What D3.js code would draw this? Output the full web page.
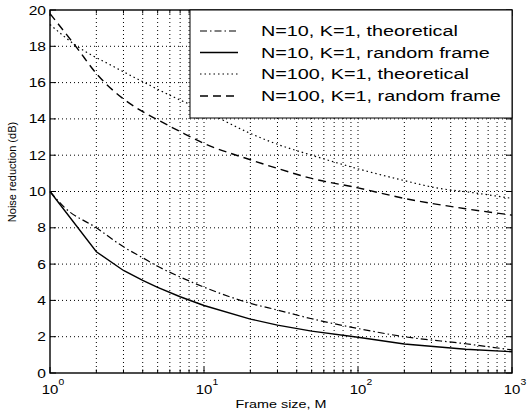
<!DOCTYPE html>
<html><head><meta charset="utf-8">
<script src="https://cdn.jsdelivr.net/npm/d3@7"></script>
<style>body{margin:0;background:#fff}svg{display:block}text{font-family:"Liberation Sans",Arial,sans-serif;fill:#000}</style>
</head><body><svg id="c" width="527" height="416"></svg>
<script>
// ---- data ----
const seriesNames = ["N=10, K=1, theoretical","N=10, K=1, random frame","N=100, K=1, theoretical","N=100, K=1, random frame"];
const mN10Theo = [1,1.25,2,3,4,5,7,10,20,30,50,100,200,500,1000];
const vN10Theo = [10,9.1,8.0,6.95,6.35,5.88,5.29,4.73,3.84,3.47,2.99,2.45,2.0,1.61,1.27];
const mN10Rand = [1,2,3,4,5,7,10,20,30,50,100,200,500,1000];
const vN10Rand = [10,6.68,5.65,5.1,4.72,4.2,3.72,2.97,2.64,2.31,1.97,1.6,1.31,1.17];
const mN100Theo = [1,1.5,2.5,4,6.3,10,20,30,50,100,200,300,600,1000];
const vN100Theo = [19.2,18.0,16.95,16.05,15.22,14.45,13.2,12.6,12.0,11.25,10.6,10.25,9.9,9.62];
const mN100Rand = [1,1.5,2,3,4,5,7,10,20,30,50,100,200,500,1000];
const vN100Rand = [19.8,17.9,16.5,15.1,14.4,13.95,13.3,12.65,11.75,11.27,10.72,10.2,9.62,9.05,8.7];
const yTicks = [0,2,4,6,8,10,12,14,16,18,20];
const xMajor = [1,10,100,1000];
const xExp = ["0","1","2","3"];
const xLabel = "Frame size, M";
const yLabel = "Noise reduction (dB)";

const svg = d3.select("#c");
const L=50,R=512,T=10,B=373;
const x = d3.scaleLog().domain([1,1000]).range([L,R]);
const y = d3.scaleLinear().domain([0,20]).range([B,T]);

function stext(g, px, py, str, size, sx, anchor){
  return g.append("text").attr("transform",`translate(${px},${py}) scale(${sx},1)`)
    .attr("font-size",size).attr("text-anchor",anchor||"start").text(str);
}

// grid
const allX = x.ticks();
const grid = svg.append("g").attr("stroke","#000").attr("stroke-width",1).attr("stroke-dasharray","1,3");
allX.filter(v=>v>1&&v<1000).forEach(v=>{
  grid.append("line").attr("x1",x(v)).attr("x2",x(v)).attr("y1",T).attr("y2",B);
});
yTicks.filter(v=>v>0&&v<20).forEach(v=>{
  grid.append("line").attr("x1",L).attr("x2",R).attr("y1",y(v)).attr("y2",y(v));
});

// ticks (inward) on all sides
const tk = svg.append("g").attr("stroke","#000").attr("stroke-width",1);
allX.forEach(v=>{
  const len = xMajor.includes(v)?6:3.5;
  tk.append("line").attr("x1",x(v)).attr("x2",x(v)).attr("y1",B).attr("y2",B-len);
  tk.append("line").attr("x1",x(v)).attr("x2",x(v)).attr("y1",T).attr("y2",T+len);
});
yTicks.forEach(v=>{
  tk.append("line").attr("x1",L).attr("x2",L+6).attr("y1",y(v)).attr("y2",y(v));
  tk.append("line").attr("x1",R).attr("x2",R-6).attr("y1",y(v)).attr("y2",y(v));
});

// curves
const series = [
  {m:mN10Theo, v:vN10Theo, dash:"7,3,1.5,3", w:1.2, curve:d3.curveMonotoneX},
  {m:mN10Rand, v:vN10Rand, dash:null, w:1.4, curve:d3.curveLinear},
  {m:mN100Theo, v:vN100Theo, dash:"1.5,3", w:1.2, curve:d3.curveMonotoneX},
  {m:mN100Rand, v:vN100Rand, dash:"8,5", w:1.4, curve:d3.curveMonotoneX}
];
series.forEach(s=>{
  const line = d3.line().x(d=>x(d[0])).y(d=>y(d[1])).curve(s.curve);
  svg.append("path").datum(s.m.map((mm,i)=>[mm,s.v[i]]))
    .attr("d",line).attr("fill","none").attr("stroke","#000")
    .attr("stroke-width",s.w).attr("stroke-dasharray",s.dash);
});

// axes box
svg.append("rect").attr("x",L).attr("y",T).attr("width",R-L).attr("height",B-T)
  .attr("fill","none").attr("stroke","#000").attr("stroke-width",1.4);

// tick labels
const lab = svg.append("g");
yTicks.forEach(v=>{ stext(lab, L-4, y(v)+4.5, String(v), 13, 1.2, "end"); });
xMajor.forEach((v,i)=>{
  stext(lab, x(v), 394, "10", 13, 1.15, "middle");
  stext(lab, x(v)+8.5, 385, xExp[i], 9, 1.15, "start");
});
stext(lab, 281, 408, xLabel, 11.5, 1.25, "middle");
lab.append("text").attr("transform","translate(16,172) rotate(-90)")
  .attr("font-size",11).attr("text-anchor","middle").text(yLabel);

// legend
const lg = svg.append("g");
lg.append("rect").attr("x",190).attr("y",T).attr("width",R-190).attr("height",108)
  .attr("fill","#fff").attr("stroke","#000").attr("stroke-width",1);
const rowY = [31,52.5,74,96];
seriesNames.forEach((nm,i)=>{
  lg.append("line").attr("x1",200).attr("x2",238).attr("y1",rowY[i]).attr("y2",rowY[i])
    .attr("stroke","#000").attr("stroke-width",series[i].w).attr("stroke-dasharray",series[i].dash);
  stext(lg, 261, rowY[i]+5.3, nm, 15, 1.32, "start");
});
</script></body></html>
